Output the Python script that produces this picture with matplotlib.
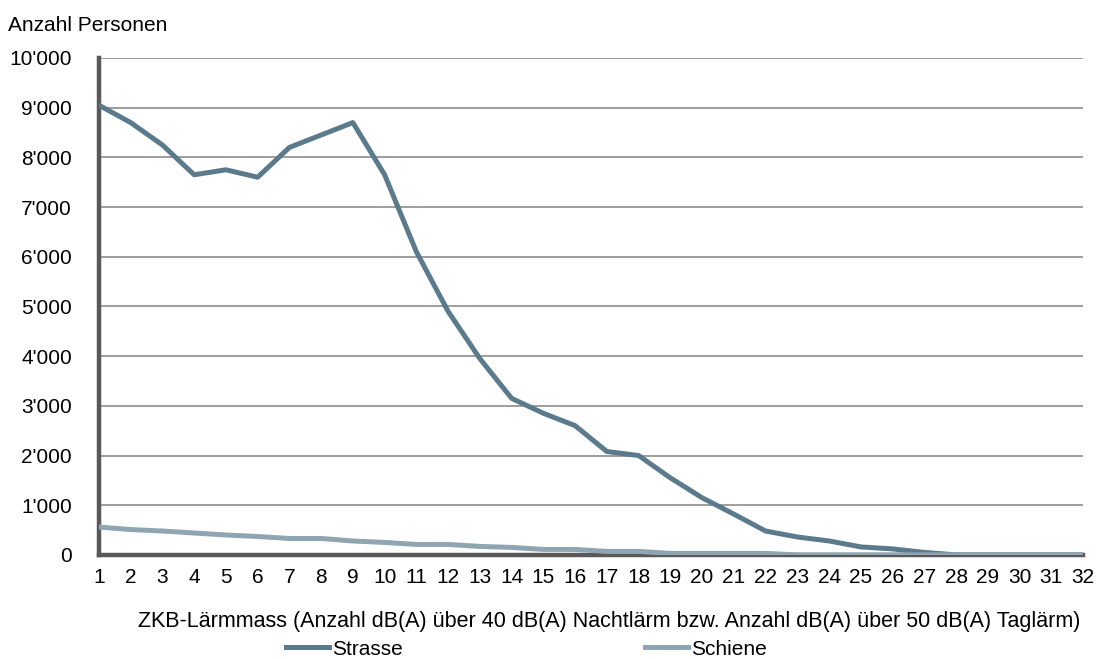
import matplotlib
matplotlib.use("Agg")
import matplotlib.pyplot as plt
from matplotlib.lines import Line2D

plt.rcParams['font.family'] = ['Liberation Sans', 'DejaVu Sans']

x_vals = list(range(1, 33))
strasse = [9050, 8700, 8250, 7650, 7750, 7600, 8200, 8450, 8700, 7650,
           6100, 4900, 3950, 3150, 2850, 2600, 2080, 2000, 1550, 1150,
           820, 480, 360, 280, 160, 120, 50, 0, 0, 0, 0, 0]
schiene = [560, 510, 480, 440, 400, 370, 330, 330, 280, 250,
           210, 210, 170, 150, 110, 110, 70, 70, 30, 30,
           30, 30, 0, 0, 0, 0, 0, 0, 0, 0, 0, 0]
y_ticks = list(range(0, 10001, 1000))
y_tick_labels = ["0", "1'000", "2'000", "3'000", "4'000", "5'000",
                 "6'000", "7'000", "8'000", "9'000", "10'000"]
series_names = ["Strasse", "Schiene"]
col_strasse = "#5b7b8d"
col_schiene = "#8fa5b1"

fs = 15
fig = plt.figure(figsize=(10.99, 6.59), dpi=100)
ax = fig.add_axes([0.090, 0.158, 0.8955, 0.754])

ax.plot(x_vals, strasse, color=col_strasse, lw=3.6, zorder=4)
ax.plot(x_vals, schiene, color=col_schiene, lw=3.6, zorder=5)

ax.set_xlim(1, 32)
ax.set_ylim(0, 10000)
ax.set_yticks(y_ticks)
ax.set_yticklabels(y_tick_labels)
ax.set_xticks(x_vals)
ax.set_xticklabels([str(v) for v in x_vals])
ax.tick_params(axis='both', length=0, labelsize=fs, colors='black')
ax.tick_params(axis='y', pad=19.5)
ax.tick_params(axis='x', pad=9.5)

for yv in y_ticks[1:]:
    ax.axhline(yv, color='#8c8c8c', lw=1.2, zorder=1)

for s in ['top', 'right']:
    ax.spines[s].set_visible(False)
ax.spines['left'].set_color('#595959')
ax.spines['left'].set_linewidth(3.2)
ax.spines['bottom'].set_color('#595959')
ax.spines['bottom'].set_linewidth(3.2)
for s in ['left', 'bottom']:
    ax.spines[s].set_zorder(3)

ax.set_xlabel("ZKB-Lärmmass (Anzahl dB(A) über 40 dB(A) Nachtlärm bzw. Anzahl dB(A) über 50 dB(A) Taglärm)",
              fontsize=15.5)
ax.xaxis.set_label_coords(0.519, -0.112)
fig.text(0.007, 0.962, "Anzahl Personen", fontsize=fs, ha='left', va='center')

handles = [Line2D([], [], color=col_strasse, lw=3.6),
           Line2D([], [], color=col_schiene, lw=3.6)]
fig.legend(handles, series_names, loc='center', bbox_to_anchor=(0.479, 0.015),
           ncol=2, frameon=False, fontsize=fs, handlelength=2.07, handletextpad=0.15,
           columnspacing=11.6, borderpad=0)

fig.savefig("out.png", dpi=100)
